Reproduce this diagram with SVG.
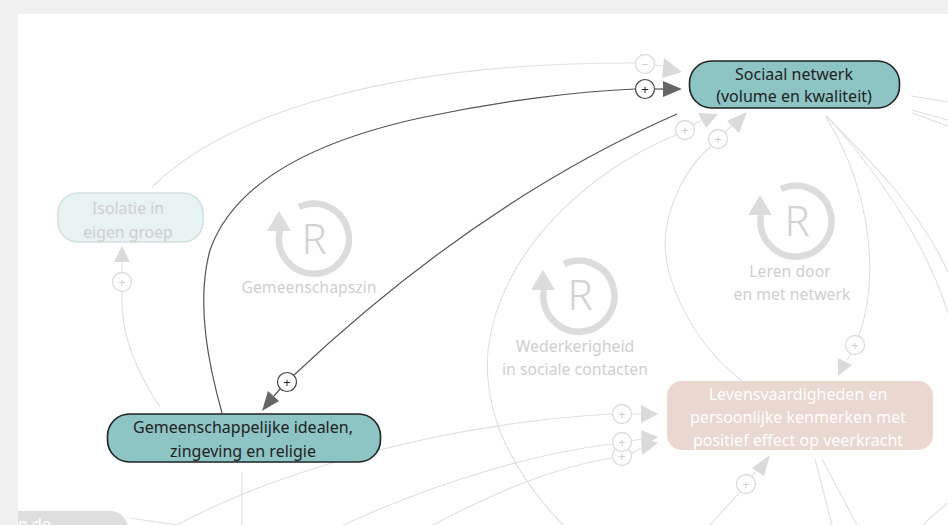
<svg xmlns="http://www.w3.org/2000/svg" width="948" height="525" viewBox="0 0 948 525">
<defs>
<style>
text{font-family:"Noto Sans","Open Sans","Liberation Sans",sans-serif;}
.lt{fill:none;stroke:#e0e0e0;stroke-width:1.1;}
.dk{fill:none;stroke:#555;stroke-width:1.2;}
.lc{fill:#fff;stroke:#dcdcdc;stroke-width:1.3;}
.dc{fill:#fff;stroke:#444;stroke-width:1.2;}
.lp{fill:#cfcfcf;font-size:13px;text-anchor:middle;}
.dp{fill:#222;font-size:13px;text-anchor:middle;}
.la{fill:#dadada;}
.da{fill:#666;}
.loop{fill:none;stroke:#dcdcdc;stroke-width:6.5;}
.loopa{fill:#dcdcdc;}
.R{fill:#d2d2d2;font-size:42px;text-anchor:middle;font-weight:300;}
.ll{fill:#cfcfcf;font-size:15.8px;text-anchor:middle;}
.nt{fill:#222;font-size:16px;text-anchor:middle;}
.wt{fill:#fff;font-size:16px;text-anchor:middle;}
</style>
<clipPath id="panel"><rect x="18" y="14" width="930" height="511"/></clipPath>
</defs>
<rect width="948" height="525" fill="#f0f0f0"/>
<rect x="18" y="14" width="930" height="511" fill="#fff"/>
<g clip-path="url(#panel)">
<g id="connectors">
<path class="lt" d="M152 187 C230 110 400 62 635 63"/>
<path class="lt" d="M160 407 C135 370 120 330 122 292"/>
<path class="lt" d="M676 135 C590 170 500 250 488 350 C482 420 520 480 563 525"/>
<path class="lt" d="M742 381 C690 340 655 270 668 220 C676 185 695 160 711 146"/>
<path class="lt" d="M825 116 C860 170 885 260 859 336"/>
<path class="lt" d="M826 116 C870 160 920 210 948 272"/>
<path class="lt" d="M827 116 C875 170 925 240 948 313"/>
<path class="lt" d="M912 96 L948 102"/>
<path class="lt" d="M912 110 L948 120"/>
<path class="lt" d="M912 113 L948 126"/>
<path class="lt" d="M177 525 C260 480 420 425 612 414"/>
<path class="lt" d="M343 525 C420 490 520 455 612 444"/>
<path class="lt" d="M433 525 C490 495 550 468 612 458"/>
<path class="lt" d="M130 518 L177 525"/>
<path class="lt" d="M242 472 L242 525"/>
<path class="lt" d="M710 525 L740 492"/>
<path class="lt" d="M815 459 L832 525"/>
<path class="lt" d="M822 459 L857 525"/>
<path class="lt" d="M923 525 C932 516 940 509 948 503"/>
<circle class="lc" cx="645" cy="64" r="9.5"/><text class="lp" x="645" y="68.5">−</text>
<line class="lt" x1="654" y1="65" x2="664" y2="66"/>
<polygon class="la" points="682,72 664,58 662,78"/>
<circle class="lc" cx="685" cy="130" r="9.5"/><text class="lp" x="685" y="134.5">+</text>
<line class="lt" x1="693" y1="125" x2="702" y2="120"/>
<polygon class="la" points="718,114 698,113 706,128"/>
<circle class="lc" cx="718" cy="139" r="9.5"/><text class="lp" x="718" y="143.5">+</text>
<line class="lt" x1="725" y1="132" x2="733" y2="125"/>
<polygon class="la" points="747,112 727,121 739,133"/>
<circle class="lc" cx="122" cy="282" r="9.5"/><text class="lp" x="122" y="286.5">+</text>
<line class="lt" x1="122" y1="272" x2="122" y2="262"/>
<polygon class="la" points="122,246 114,262 130,262"/>
<circle class="lc" cx="855" cy="345" r="9.5"/><text class="lp" x="855" y="349.5">+</text>
<line class="lt" x1="851" y1="354" x2="847" y2="360"/>
<polygon class="la" points="838,376 838,358 852,365"/>
<circle class="lc" cx="622" cy="414" r="9.5"/><text class="lp" x="622" y="418.5">+</text>
<line class="lt" x1="631" y1="414" x2="641" y2="414"/>
<polygon class="la" points="658,414 641,405 641,423"/>
<circle class="lc" cx="622" cy="456" r="9.5"/><text class="lp" x="622" y="460.5">+</text>
<circle class="lc" cx="622" cy="442" r="9.5"/><text class="lp" x="622" y="446.5">+</text>
<line class="lt" x1="631" y1="441" x2="641" y2="439"/>
<line class="lt" x1="631" y1="454" x2="641" y2="448"/>
<polygon class="la" points="658,437 641,430 642,447"/>
<polygon class="la" points="658,443 641,437 642,455"/>
<circle class="lc" cx="746" cy="484" r="9.5"/><text class="lp" x="746" y="488.5">+</text>
<line class="lt" x1="752" y1="476" x2="757" y2="470"/>
<polygon class="la" points="770,455 752,468 764,476"/>
<path class="dk" d="M222 413 C210 370 195 305 210 250 C235 180 320 140 420 118 C500 101 580 91 635 89"/>
<circle class="dc" cx="645" cy="89" r="9.5"/><text class="dp" x="645" y="93.5">+</text>
<line class="dk" x1="654.5" y1="89" x2="665" y2="89"/>
<polygon class="da" points="682,89 663,81 663,97"/>
<path class="dk" d="M677 114 Q480 200 294 375"/>
<circle class="dc" cx="287" cy="382" r="9.5"/><text class="dp" x="287" y="386.5">+</text>
<line class="dk" x1="280" y1="389" x2="274" y2="396"/>
<polygon class="da" points="262,411 268,391 279,401"/>
</g>
<g id="loop-gemeenschapszin">
<path class="loop" d="M299 207 A35 35 0 1 1 280 230"/>
<polygon class="loopa" points="279,211 267,231 291,231"/>
<text class="R" x="314" y="254">R</text>
<text class="ll" x="309" y="293">Gemeenschapszin</text>
</g>
<g id="loop-wederkerigheid">
<path class="loop" d="M564 264 A35.5 35.5 0 1 1 544 290"/>
<polygon class="loopa" points="543,270 531,290 555,290"/>
<text class="R" x="580" y="310">R</text>
<text class="ll" x="575" y="352">Wederkerigheid</text>
<text class="ll" x="575" y="375">in sociale contacten</text>
</g>
<g id="loop-leren">
<path class="loop" d="M781 189 A35.5 35.5 0 1 1 761 215"/>
<polygon class="loopa" points="760,195 748,215 772,215"/>
<text class="R" x="797" y="236">R</text>
<text class="ll" x="790" y="277">Leren door</text>
<text class="ll" x="792" y="300">en met netwerk</text>
</g>
<g id="node-isolatie">
<rect x="58" y="193" width="145" height="49" rx="20" fill="#e8f3f3" stroke="#d3e1e1" stroke-width="1.5"/>
<text class="ll" x="128" y="214">Isolatie in</text>
<text class="ll" x="128" y="238">eigen groep</text>
</g>
<g id="node-levens">
<rect x="667" y="381" width="266" height="69" rx="15" fill="#e9d7d0"/>
<text class="wt" x="798" y="400">Levensvaardigheden en</text>
<text class="wt" x="798" y="423">persoonlijke kenmerken met</text>
<text class="wt" x="798" y="446">positief effect op veerkracht</text>
</g>
<g id="node-gemeenschappelijke">
<rect x="107.5" y="414" width="273" height="48" rx="22" fill="#8cc5c4" stroke="#222" stroke-width="1.6"/>
<text class="nt" x="243" y="433">Gemeenschappelijke idealen,</text>
<text class="nt" x="243" y="457">zingeving en religie</text>
</g>
<g id="node-sociaal">
<rect x="689.5" y="61" width="210" height="47" rx="22" fill="#8cc5c4" stroke="#222" stroke-width="1.6"/>
<text class="nt" x="794" y="80">Sociaal netwerk</text>
<text class="nt" x="794" y="102">(volume en kwaliteit)</text>
</g>
<g id="node-cut">
<rect x="-60" y="511" width="188" height="40" rx="18" fill="#dedede"/>
<text x="18" y="530" style="fill:#fff;font-size:16px">n de</text>
</g>
</g>
</svg>
